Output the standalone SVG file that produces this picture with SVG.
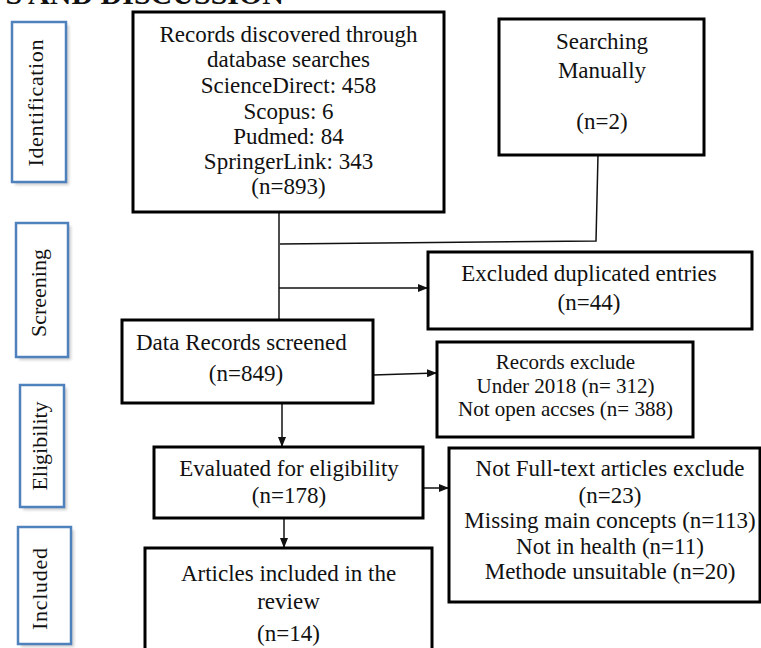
<svg xmlns="http://www.w3.org/2000/svg" width="761" height="648" viewBox="0 0 761 648">
<style>
.box{fill:#fff;stroke:#000;stroke-width:3}
.lbl{fill:#fff;stroke:#4f81bd;stroke-width:2.5}
.shd{fill:#9a9a9a;opacity:0.5}
.t{font-size:23px;fill:#111;text-anchor:middle}
.v{font-size:22px}
.s{font-size:21px}
.c{fill:none;stroke:#111;stroke-width:1.5}
</style>
<defs>
<marker id="ah" markerWidth="10" markerHeight="8" refX="9" refY="4" orient="auto" markerUnits="userSpaceOnUse">
<path d="M0,0 L10,4 L0,8 z" fill="#111"/>
</marker>
<filter id="blur" x="-20%" y="-20%" width="140%" height="140%"><feGaussianBlur stdDeviation="1.5"/></filter>
</defs>
<rect width="761" height="648" fill="#fff"/>
<g font-family="Liberation Serif, Times New Roman, serif">
<text x="284" y="4" font-size="30" font-weight="bold" fill="#111" text-anchor="end">S AND DISCUSSION</text>

<g id="lbl-identification">
<rect class="shd" x="15" y="25" width="54" height="160" filter="url(#blur)"/>
<rect class="lbl" x="12" y="22" width="54" height="160"/>
<text class="t v" transform="translate(43,103) rotate(-90)" textLength="127">Identification</text>
</g>
<g id="lbl-screening">
<rect class="shd" x="19" y="226" width="52" height="134" filter="url(#blur)"/>
<rect class="lbl" x="16" y="223" width="52" height="134"/>
<text class="t v" transform="translate(46,293) rotate(-90)">Screening</text>
</g>
<g id="lbl-eligibility">
<rect class="shd" x="23" y="388" width="44" height="122" filter="url(#blur)"/>
<rect class="lbl" x="20" y="385" width="44" height="122"/>
<text class="t v" transform="translate(47,446) rotate(-90)">Eligibility</text>
</g>
<g id="lbl-included">
<rect class="shd" x="21" y="530" width="53" height="117" filter="url(#blur)"/>
<rect class="lbl" x="18" y="527" width="53" height="117"/>
<text class="t v" transform="translate(47,589) rotate(-90)" textLength="82">Included</text>
</g>

<g id="connectors">
<line class="c" x1="279" y1="212" x2="279" y2="320"/>
<polyline class="c" points="598,155 596,241 280,244"/>
<line class="c" x1="279" y1="288" x2="427" y2="288" marker-end="url(#ah)"/>
<line class="c" x1="373" y1="375" x2="436" y2="373" marker-end="url(#ah)"/>
<line class="c" x1="282" y1="403" x2="282" y2="446" marker-end="url(#ah)"/>
<line class="c" x1="423" y1="488" x2="448" y2="488" marker-end="url(#ah)"/>
<line class="c" x1="284" y1="518" x2="284" y2="547" marker-end="url(#ah)"/>
</g>

<g id="records">
<rect class="box" x="133" y="12" width="311" height="200"/>
<text class="t" x="288.5" y="42">Records discovered through</text>
<text class="t" x="288.5" y="67">database searches</text>
<text class="t" x="288.5" y="93">ScienceDirect: 458</text>
<text class="t" x="288.5" y="119">Scopus: 6</text>
<text class="t" x="288.5" y="144">Pudmed: 84</text>
<text class="t" x="288.5" y="169">SpringerLink: 343</text>
<text class="t" x="288.5" y="194">(n=893)</text>
</g>
<g id="manual">
<rect class="box" x="499" y="19" width="205" height="136"/>
<text class="t" x="602" y="49">Searching</text>
<text class="t" x="602" y="78">Manually</text>
<text class="t" x="602" y="129">(n=2)</text>
</g>
<g id="duplicates">
<rect class="box" x="428" y="252" width="324" height="77"/>
<text class="t" x="589" y="281">Excluded duplicated entries</text>
<text class="t" x="589" y="310">(n=44)</text>
</g>
<g id="screened">
<rect class="box" x="122" y="320" width="251" height="83"/>
<text class="t" x="136" y="350" style="text-anchor:start">Data Records screened</text>
<text class="t" x="246" y="381">(n=849)</text>
</g>
<g id="records-excluded">
<rect class="box" x="437" y="342" width="256" height="95"/>
<text class="t s" x="565.5" y="369">Records exclude</text>
<text class="t s" x="565.5" y="393">Under 2018 (n= 312)</text>
<text class="t s" x="565.5" y="416">Not open accses (n= 388)</text>
</g>
<g id="eligibility">
<rect class="box" x="154" y="447" width="269" height="71"/>
<text class="t" x="289" y="476">Evaluated for eligibility</text>
<text class="t" x="289" y="503">(n=178)</text>
</g>
<g id="fulltext-excluded">
<rect class="box" x="449" y="448" width="311" height="154"/>
<text class="t" x="610" y="476">Not Full-text articles exclude</text>
<text class="t" x="610" y="503">(n=23)</text>
<text class="t" x="610" y="528">Missing main concepts (n=113)</text>
<text class="t" x="610" y="554">Not in health (n=11)</text>
<text class="t" x="610" y="579">Methode unsuitable (n=20)</text>
</g>
<g id="included">
<rect class="box" x="145" y="548" width="287" height="106"/>
<text class="t" x="288.5" y="581">Articles included in the</text>
<text class="t" x="288.5" y="609">review</text>
<text class="t" x="288.5" y="641">(n=14)</text>
</g>
</g>
</svg>
